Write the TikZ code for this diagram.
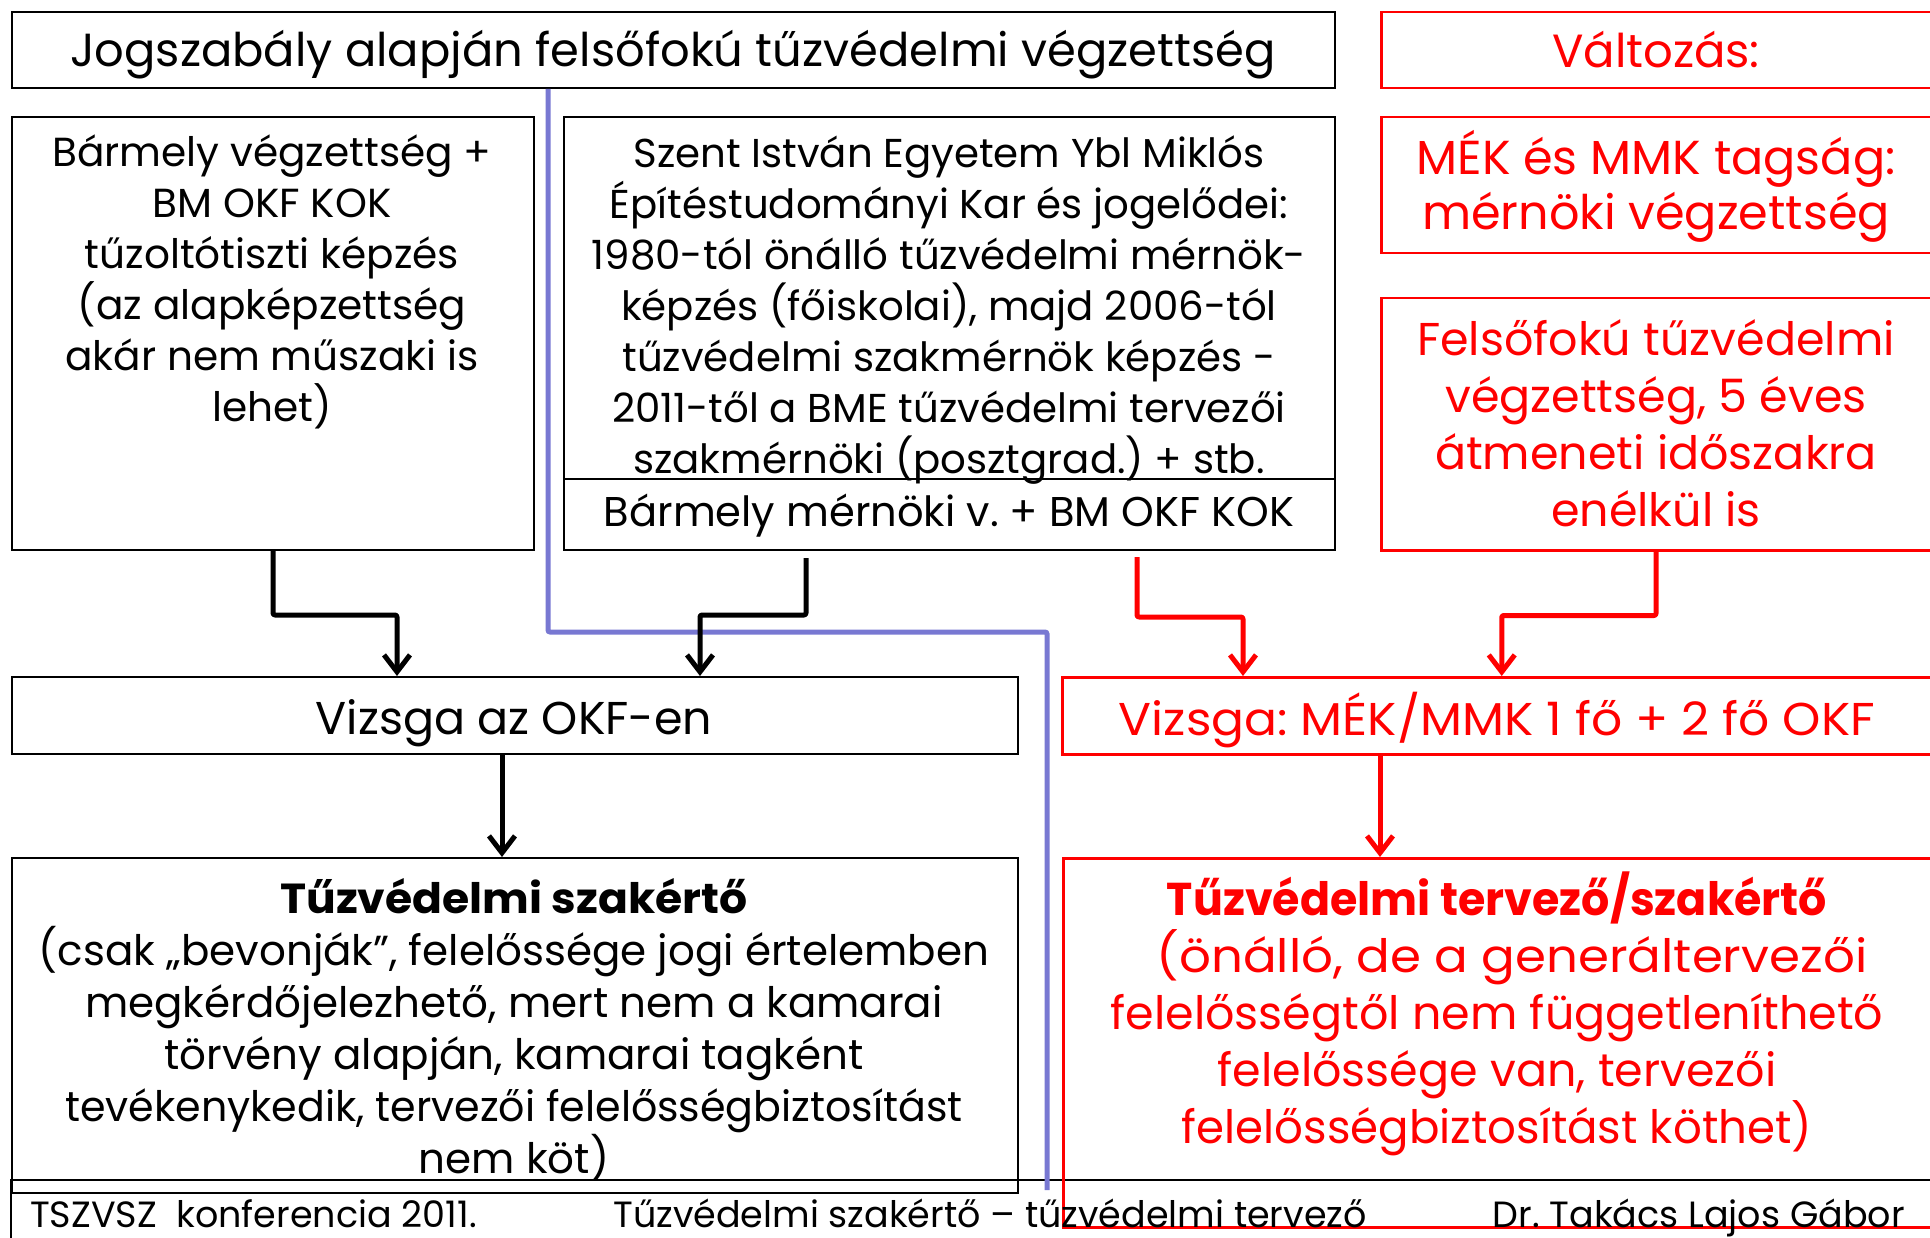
\documentclass[tikz,border=0pt]{standalone}
\usepackage{fontspec}
\setmainfont{Poppins}
\usetikzlibrary{arrows.meta,calc}
\definecolor{rd}{RGB}{255,0,0}
\definecolor{bluel}{RGB}{120,120,210}
\newcommand\fsz[2]{\fontsize{#1}{#2}\selectfont}
\tikzset{
  box/.style={draw=black, line width=2pt, rectangle, inner sep=0pt, anchor=north west},
  rbox/.style={draw=rd, line width=2.5pt, rectangle, inner sep=0pt, anchor=north west},
  txt/.style={align=center, inner sep=0pt},
  rtxt/.style={align=center, inner sep=0pt, text=rd},
  arr/.style={line width=5pt, rounded corners=2pt, line join=round, -{Straight Barb[length=17pt,width=26pt]}},
  rarr/.style={arr, draw=rd},
}
\frenchspacing
\begin{document}
\frenchspacing
\begin{tikzpicture}[x=1pt,y=-1pt]
\useasboundingbox (0,0) rectangle (1930,1238);
% boxes
\node[box, minimum width=1323pt, minimum height=76pt] (top) at (11,11) {};
\node[rbox, minimum width=560pt, minimum height=76pt] (valt) at (1380,11) {};
\node[box, minimum width=522pt, minimum height=433pt] (lbox) at (11,116) {};
\node[box, minimum width=771pt, minimum height=433pt] (mbox) at (563,116) {};
\node[rbox, minimum width=560pt, minimum height=136pt] (mek) at (1380,116) {};
\node[rbox, minimum width=560pt, minimum height=252pt] (felso) at (1380,297) {};
\node[box, minimum width=1006pt, minimum height=77pt] (vok) at (11,676) {};
\node[rbox, minimum width=879pt, minimum height=77pt] (rv) at (1061,676) {};
% footer frame
\coordinate (fl) at (11,1245);
\coordinate (fr) at (1935,1180);
\draw[line width=2pt] (fl) |- (fr);
\node[box, minimum width=1006pt, minimum height=335pt] (szak) at (11,857) {};
\node[rbox, minimum width=878pt, minimum height=369pt] (rt) at (1062,857) {};
% divider in middle box
\draw[line width=2pt] ([yshift=-363pt]mbox.north west) -- ([yshift=-363pt]mbox.north east);
% texts
\node[txt, font=\fsz{46.4}{54}] (ttop) at (673,55) {Jogszabály alapján felsőfokú tűzvédelmi végzettség};
\node[rtxt, font=\fsz{46.5}{54}] (tvalt) at (1656,50) {Változás:};
\node[txt, font=\fsz{40.6}{51}] (tl) at (272,282) {Bármely végzettség +\\BM OKF KOK\\tűzoltótiszti képzés\\(az alapképzettség\\akár nem műszaki is\\lehet)};
\node[txt, font=\fsz{40.3}{51}] (tm) at (949,310) {Szent István Egyetem Ybl Miklós\\Építéstudományi Kar és jogelődei:\\1980-tól önálló tűzvédelmi mérnök-\\képzés (főiskolai), majd 2006-tól\\tűzvédelmi szakmérnök képzés -\\2011-től a BME tűzvédelmi tervezői\\szakmérnöki (posztgrad.) + stb.};
\node[txt, font=\fsz{41.6}{51}] (tm2) at (949,516) {Bármely mérnöki v. + BM OKF KOK};
\node[rtxt, font=\fsz{47.7}{55}] (tmek) at (1656,186) {MÉK és MMK tagság:\\mérnöki végzettség};
\node[rtxt, font=\fsz{46}{57}] (tfel) at (1656,423) {Felsőfokú tűzvédelmi\\végzettség, 5 éves\\átmeneti időszakra\\enélkül is};
\node[txt, font=\fsz{46}{54}] (tvok) at (514,723) {Vizsga az OKF-en};
\node[rtxt, font=\fsz{46}{54}] (trv) at (1497,720) {\scalebox{1.06}[1]{Vizsga: MÉK/MMK 1 fő + 2 fő OKF}};
\node[txt, font=\fsz{42}{52}] (tsz) at (514,1030) {\scalebox{1.05}[1]{\textbf{Tűzvédelmi szakértő}}\\(csak „bevonják”, felelőssége jogi értelemben\\megkérdőjelezhető, mert nem a kamarai\\törvény alapján, kamarai tagként\\\scalebox{0.98}[1]{tevékenykedik, tervezői felelősségbiztosítást}\\nem köt)};
\node[rtxt, font=\fsz{46}{57}] (trt) at (1497,1014) {\scalebox{0.965}[1]{\textbf{Tűzvédelmi tervező/szakértő}}\\\hspace*{30pt}\scalebox{1.085}[1]{(önálló, de a generáltervezői}\\felelősségtől nem függetleníthető\\felelőssége van, tervezői\\\scalebox{0.98}[1]{felelősségbiztosítást köthet)}};
% footer texts
\node[anchor=base west, inner sep=0pt, font=\fsz{36.5}{40}] (f1) at (30,1227) {TSZVSZ\ \ konferencia 2011.};
\node[anchor=base, inner sep=0pt, font=\fsz{36.5}{40}] (f2) at (990,1227) {Tűzvédelmi szakértő – tűzvédelmi tervező};
\node[anchor=base east, inner sep=0pt, font=\fsz{36.5}{40}] (f3) at (1905,1227) {Dr. Takács Lajos Gábor};
% blue line
\coordinate (bend) at (1047,1190);
\draw[bluel, line width=5pt, rounded corners=2pt] ([xshift=537pt]top.south west) -- ++(0,543) -| (bend);
% arrows
\draw[arr] (lbox.south) -- ++(0,64) -| ([xshift=386pt]vok.north west);
\draw[arr] ([xshift=243pt,yshift=-7pt]mbox.south west) -- ++(0,57) -| ([xshift=689pt]vok.north west);
\draw[arr] ([xshift=491pt]vok.south west) -- ([xshift=491pt]szak.north west);
\draw[rarr] ([xshift=574pt,yshift=-6pt]mbox.south west) -- ++(0,60) -| ([xshift=182pt]rv.north west);
\draw[rarr] ([xshift=276pt]felso.south west) -- ++(0,64) -| (rv.north);
\draw[rarr] ([xshift=319pt]rv.south west) -- ([xshift=318pt]rt.north west);
\end{tikzpicture}
\end{document}
